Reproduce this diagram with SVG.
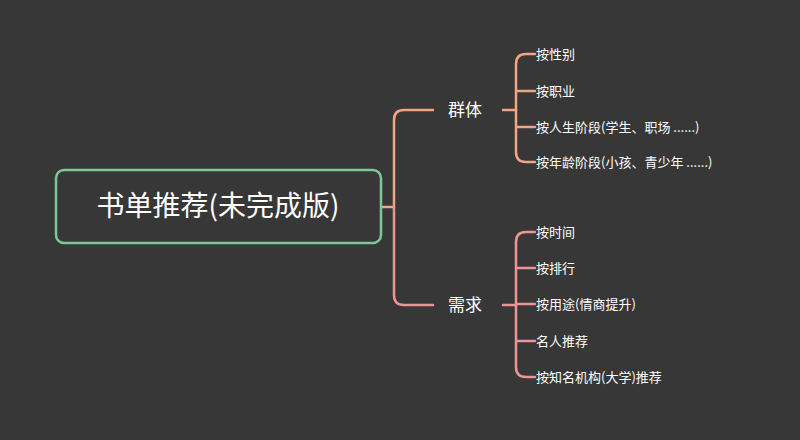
<svg xmlns="http://www.w3.org/2000/svg" width="800" height="440" viewBox="0 0 800 440">
<style>
text{font-family:"Noto Sans CJK SC","Noto Sans",sans-serif;fill:#ffffff}
.leaf{font-size:13px}
.grp{font-size:17px}
.c1{fill:none;stroke:#f2a583;stroke-width:2.5;stroke-linecap:round}
.c2{fill:none;stroke:#ec9594;stroke-width:2.5;stroke-linecap:round}
</style>
<rect width="800" height="440" fill="#373737"/>
<g id="connectors">
<path class="c1" d="M382,207 H394 V120 Q394,110 404,110 H433"/>
<path class="c2" d="M394,207 V295 Q394,305 404,305 H433"/>
<path class="c1" d="M503,110 H516"/>
<path class="c1" d="M535,54 H526 Q516,54 516,64 V152 Q516,162 526,162 H535 M516,91 H535 M516,127 H535"/>
<path class="c2" d="M503,305 H516"/>
<path class="c2" d="M535,232 H526 Q516,232 516,242 V367 Q516,377 526,377 H535 M516,268 H535 M516,304 H535 M516,341 H535"/>
</g>
<g id="root">
<rect x="56" y="170" width="325" height="73" rx="8" fill="#373737" stroke="#7ec699" stroke-width="2.5"/>
<text x="218" y="216" font-size="28" text-anchor="middle">书单推荐(未完成版)</text>
</g>
<g id="g1"><text class="grp" x="448" y="116">群体</text></g>
<g id="g2"><text class="grp" x="448" y="311">需求</text></g>
<g id="l1"><text class="leaf" x="536" y="59">按性别</text></g>
<g id="l2"><text class="leaf" x="536" y="96">按职业</text></g>
<g id="l3"><text class="leaf" x="536" y="132">按人生阶段(学生、职场 ......)</text></g>
<g id="l4"><text class="leaf" x="536" y="167">按年龄阶段(小孩、青少年 ......)</text></g>
<g id="l5"><text class="leaf" x="536" y="237">按时间</text></g>
<g id="l6"><text class="leaf" x="536" y="273">按排行</text></g>
<g id="l7"><text class="leaf" x="536" y="309">按用途(情商提升)</text></g>
<g id="l8"><text class="leaf" x="536" y="346">名人推荐</text></g>
<g id="l9"><text class="leaf" x="536" y="382">按知名机构(大学)推荐</text></g>
</svg>
